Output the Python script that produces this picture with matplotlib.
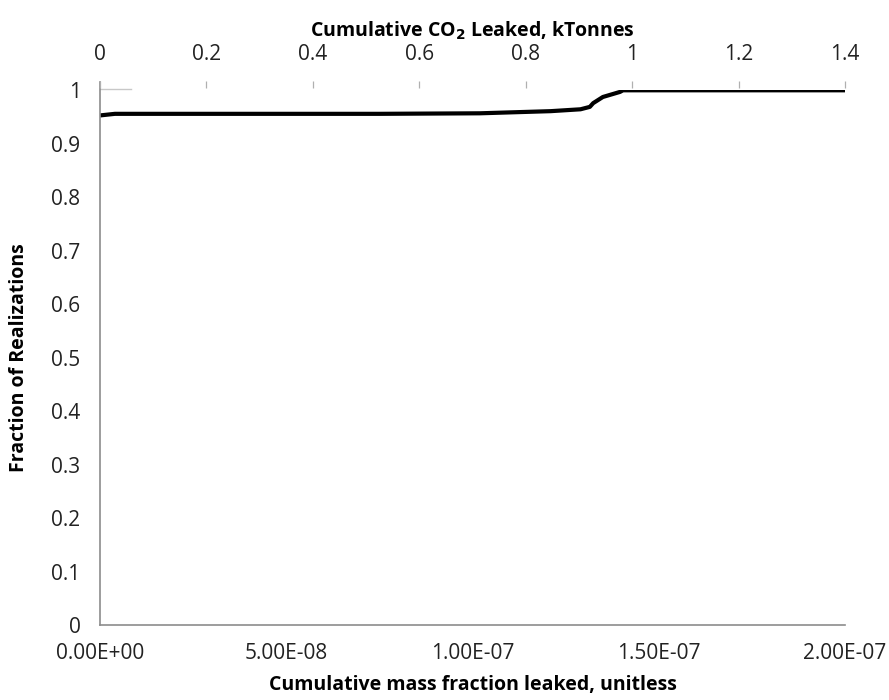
import matplotlib
matplotlib.use("Agg")
import matplotlib.pyplot as plt

# Cumulative distribution of leaked mass fraction across realizations
mass_fraction = [0.0, 4.0e-9, 7.5e-8, 1.02e-7, 1.21e-7, 1.29e-7, 1.315e-7,
                 1.324e-7, 1.35e-7, 1.396e-7, 1.404e-7, 2.0e-7]
fraction_realizations = [0.953, 0.956, 0.956, 0.957, 0.961, 0.9645, 0.969,
                         0.976, 0.9875, 0.997, 1.0, 1.0]

bottom_ticks = [0.0, 5.0e-8, 1.0e-7, 1.5e-7, 2.0e-7]
bottom_labels = ["0.00E+00", "5.00E-08", "1.00E-07", "1.50E-07", "2.00E-07"]
top_ticks = [0, 0.2, 0.4, 0.6, 0.8, 1.0, 1.2, 1.4]
top_labels = ["0", "0.2", "0.4", "0.6", "0.8", "1", "1.2", "1.4"]
y_ticks = [0, 0.1, 0.2, 0.3, 0.4, 0.5, 0.6, 0.7, 0.8, 0.9, 1.0]
y_labels = ["0", "0.1", "0.2", "0.3", "0.4", "0.5", "0.6", "0.7", "0.8", "0.9", "1"]

plt.rcParams["font.family"] = ["Open Sans", "DejaVu Sans"]
tick_color = "#222222"
axis_gray = "#8c8c8c"
tick_size = 15
label_size = 14

fig = plt.figure(figsize=(8.89, 7.0), dpi=100)
ax = fig.add_axes([0.1125, 0.107, 0.838, 0.764])

ax.plot(mass_fraction, fraction_realizations, color="black", lw=3,
        solid_capstyle="butt", solid_joinstyle="round")

ax.set_xlim(0, 2.0e-7)
ax.set_ylim(0, 1.0)
ax.set_xticks(bottom_ticks)
ax.set_xticklabels(bottom_labels)
ax.set_yticks(y_ticks)
ax.set_yticklabels(y_labels)
ax.tick_params(axis="both", length=0, labelsize=tick_size, colors=tick_color)
ax.tick_params(axis="y", pad=14)
ax.tick_params(axis="x", pad=13)

for side in ("top", "right"):
    ax.spines[side].set_visible(False)
for side in ("left", "bottom"):
    ax.spines[side].set_color(axis_gray)
    ax.spines[side].set_linewidth(1.2)
ax.spines["left"].set_bounds(0, 1.015)

# short stub at the top of the value axis
ax.plot([0, 0.042], [1.003, 1.003], transform=ax.transAxes, clip_on=False,
        color="#c8c8c8", lw=1.0)

ax.set_xlabel("Cumulative mass fraction leaked, unitless", fontsize=label_size,
              fontweight="bold", labelpad=8)
ax.set_ylabel("Fraction of Realizations", fontsize=label_size,
              fontweight="bold", labelpad=16)

# Secondary axis in kilotonnes of CO2
top = ax.twiny()
top.set_xlim(0, 1.4)
top.set_xticks(top_ticks)
top.set_xticklabels(top_labels)
top.tick_params(axis="x", direction="out", length=5, width=0.9,
                color="#b0b0b0", labelsize=tick_size, colors=tick_color, pad=12)
for side in ("top", "right", "left", "bottom"):
    top.spines[side].set_visible(False)
top.spines["top"].set_position(("axes", 1.004))
top.set_xlabel("Cumulative CO$_\\mathbf{2}$ Leaked, kTonnes", fontsize=label_size,
               fontweight="bold", labelpad=5)

fig.savefig("out.png", dpi=100, facecolor="white")
